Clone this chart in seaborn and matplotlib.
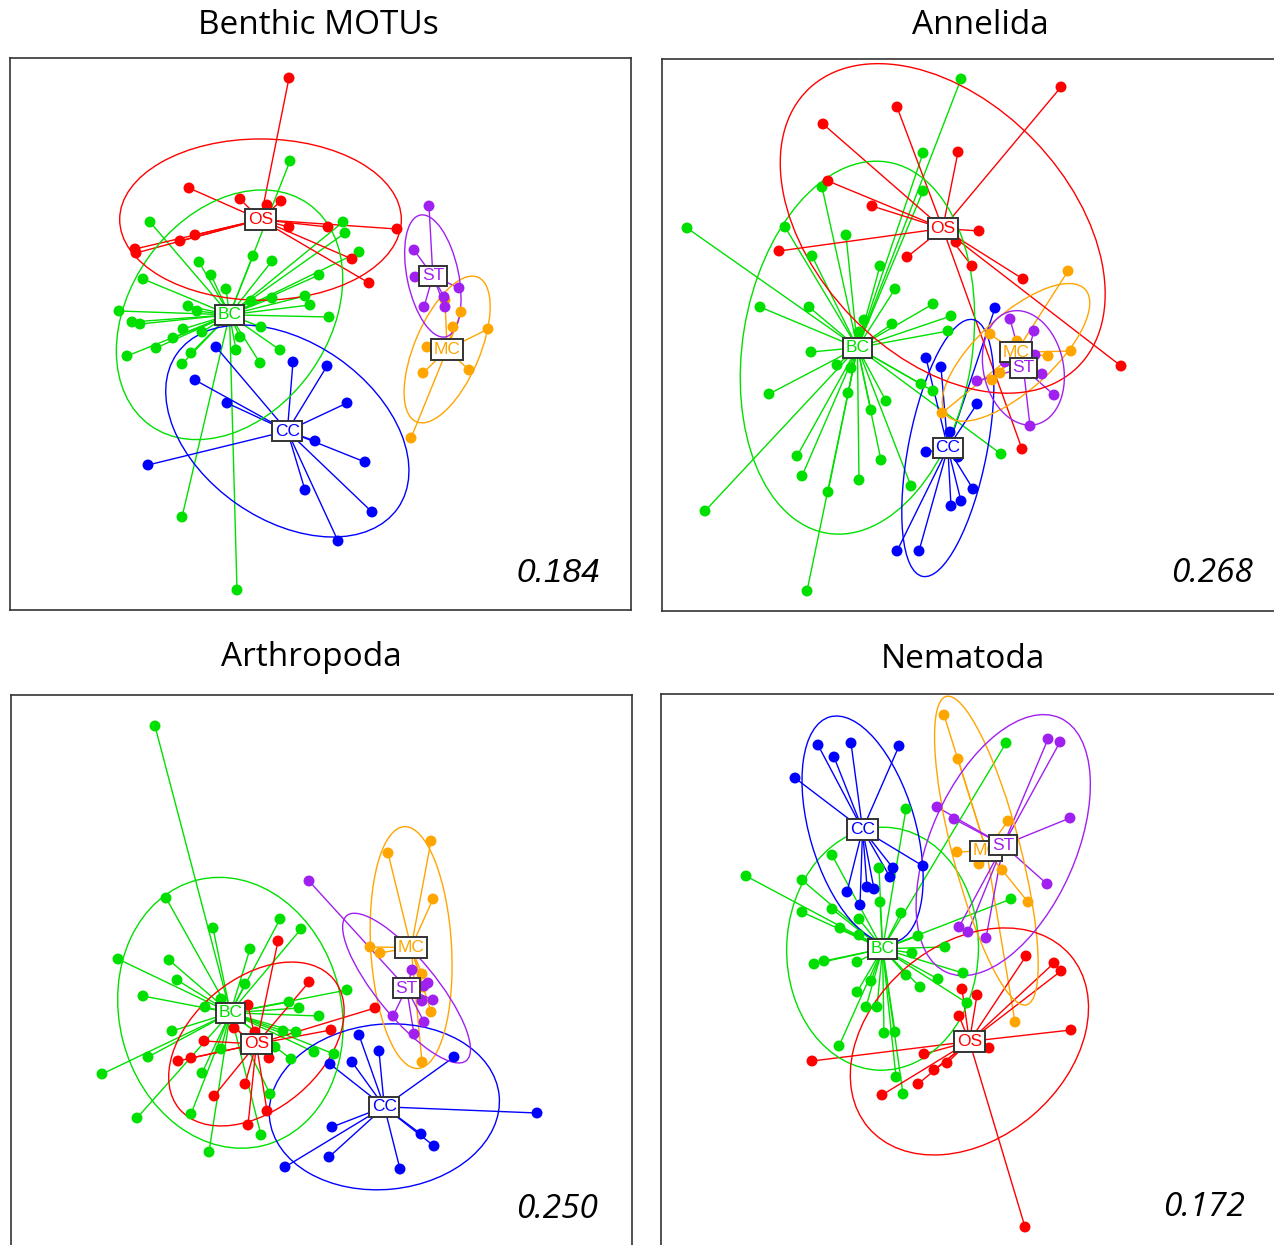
import numpy as np
import pandas as pd
import matplotlib
matplotlib.use("Agg")
import matplotlib.pyplot as plt
import seaborn as sns
from matplotlib.patches import Ellipse

# NMDS site scores (arbitrary units, one set per panel)
# --- Benthic MOTUs
benthic_BC_x = [280, 140, 333, 335, 349, 243, 262, 189, 201, 309, 133, 216, 295, 262, 241, 300, 178, 187,
                109, 319, 122, 130, 251, 173, 192, 230, 163, 146, 226, 270, 117, 181, 172, 250, 172, 227]
benthic_BC_y = [449, 388, 388, 377, 358, 354, 349, 348, 335, 335, 331, 321, 314, 312, 309, 305, 304, 299,
                299, 293, 288, 286, 283, 281, 278, 273, 272, 262, 260, 260, 254, 257, 246, 247, 93, 20]
benthic_CC_x = [206, 185, 217, 283, 317, 337, 305, 355, 138, 295, 362, 328]
benthic_CC_y = [263, 230, 207, 248, 244, 207, 169, 148, 145, 120, 98, 69]
benthic_MC_x = [451, 443, 478, 417, 413, 459, 401, 435]
benthic_MC_y = [298, 283, 281, 263, 237, 240, 172, 310]
benthic_OS_x = [279, 179, 230, 257, 271, 279, 318, 387, 342, 359, 125, 126, 170, 185]
benthic_OS_y = [532, 422, 411, 405, 409, 383, 383, 381, 351, 327, 361, 357, 369, 375]
benthic_ST_x = [419, 404, 405, 449, 434, 414, 435]
benthic_ST_y = [404, 360, 333, 322, 313, 303, 303]

# --- Annelida
annelida_BC_x = [299, 261, 261, 160, 123, 25, 184, 150, 218, 233, 98, 147, 271, 289, 286, 202, 230, 197,
                 149, 175, 189, 107, 186, 259, 271, 224, 209, 135, 219, 140, 197, 249, 166, 43, 145, 339]
annelida_BC_y = [532, 458, 420, 424, 384, 383, 376, 355, 345, 322, 304, 304, 307, 295, 280, 291, 287, 279,
                 259, 246, 243, 217, 218, 227, 220, 210, 201, 155, 151, 135, 131, 125, 119, 100, 20, 157]
annelida_CC_x = [333, 264, 279, 315, 288, 264, 296, 311, 299, 289, 235, 257]
annelida_CC_y = [303, 253, 244, 207, 179, 159, 154, 122, 110, 105, 60, 60]
annelida_MC_x = [328, 355, 386, 409, 338, 330, 280, 406]
annelida_MC_y = [277, 270, 255, 260, 238, 231, 198, 340]
annelida_OS_x = [399, 235, 161, 296, 166, 210, 117, 317, 245, 294, 310, 361, 459, 360]
annelida_OS_y = [524, 504, 487, 459, 430, 405, 360, 380, 354, 369, 345, 332, 245, 162]
annelida_ST_x = [348, 372, 373, 343, 380, 315, 392, 368]
annelida_ST_y = [292, 280, 256, 249, 237, 230, 216, 185]

# --- Arthropoda
arthro_BC_x = [144, 155, 202, 269, 290, 107, 158, 239, 166, 234, 132, 194, 210, 336, 278, 288, 308,
               161, 272, 285, 137, 210, 264, 303, 280, 323, 91, 191, 259, 180, 126, 250, 198]
arthro_BC_y = [521, 349, 319, 328, 318, 288, 287, 298, 267, 263, 251, 240, 248, 257, 245, 239, 231,
               216, 216, 215, 190, 198, 200, 195, 188, 193, 173, 174, 153, 133, 129, 112, 95]
arthro_CC_x = [348, 368, 319, 341, 443, 526, 321, 410, 423, 318, 274, 389]
arthro_CC_y = [212, 196, 183, 185, 190, 134, 120, 113, 101, 90, 80, 78]
arthro_MC_x = [377, 420, 422, 359, 369, 411, 420, 411, 412]
arthro_MC_y = [394, 406, 348, 300, 294, 273, 235, 185, 260]
arthro_OS_x = [267, 298, 237, 223, 244, 320, 193, 258, 167, 180, 234, 203, 256, 237, 364]
arthro_OS_y = [306, 265, 242, 219, 215, 217, 206, 189, 186, 189, 163, 151, 136, 122, 239]
arthro_ST_x = [298, 401, 417, 413, 411, 422, 382, 413, 403]
arthro_ST_y = [366, 277, 264, 261, 246, 247, 231, 225, 213]

# --- Nematoda
nema_BC_x = [245, 85, 171, 141, 218, 219, 141, 171, 240, 198, 179, 198, 257, 284, 251, 153, 163,
             196, 245, 277, 259, 210, 196, 345, 350, 302, 306, 205, 216, 178, 223, 234, 235, 242]
nema_BC_y = [437, 370, 391, 366, 378, 344, 334, 337, 333, 327, 318, 311, 310, 299, 293, 282, 285,
             284, 271, 267, 259, 265, 254, 503, 347, 273, 243, 239, 239, 200, 213, 214, 169, 152]
nema_CC_x = [157, 190, 238, 173, 134, 262, 232, 229, 206, 213, 186, 199]
nema_CC_y = [501, 503, 500, 489, 468, 380, 378, 369, 359, 357, 354, 341]
nema_MC_x = [283, 297, 347, 296, 318, 341, 367, 354]
nema_MC_y = [531, 487, 425, 394, 382, 376, 344, 224]
nema_OS_x = [301, 316, 298, 365, 393, 400, 410, 328, 151, 263, 286, 273, 257, 221, 364]
nema_OS_y = [257, 251, 230, 290, 283, 275, 216, 198, 185, 192, 183, 176, 162, 151, 19]
nema_ST_x = [387, 399, 276, 293, 409, 386, 298, 307, 325]
nema_ST_y = [507, 504, 439, 427, 428, 362, 319, 314, 308]

panel_titles = ["Benthic MOTUs", "Annelida", "Arthropoda", "Nematoda"]
stress_values = ["0.184", "0.268", "0.250", "0.172"]

site_order = ["BC", "CC", "MC", "OS", "ST"]
site_colors = {"BC": "#00e000", "CC": "#0000ff", "MC": "#ffa500", "OS": "#ff0000", "ST": "#a020f0"}

# ellipse scale: sd ellipse at 75% coverage
ell_scale = np.sqrt(-2 * np.log(1 - 0.75))


def make_frame(groups):
    rows = []
    for site, (xs, ys) in groups.items():
        for x, y in zip(xs, ys):
            rows.append((site, x, y))
    return pd.DataFrame(rows, columns=["site", "NMDS1", "NMDS2"])


panels = [
    make_frame({"BC": (benthic_BC_x, benthic_BC_y), "CC": (benthic_CC_x, benthic_CC_y),
                "MC": (benthic_MC_x, benthic_MC_y), "OS": (benthic_OS_x, benthic_OS_y),
                "ST": (benthic_ST_x, benthic_ST_y)}),
    make_frame({"BC": (annelida_BC_x, annelida_BC_y), "CC": (annelida_CC_x, annelida_CC_y),
                "MC": (annelida_MC_x, annelida_MC_y), "OS": (annelida_OS_x, annelida_OS_y),
                "ST": (annelida_ST_x, annelida_ST_y)}),
    make_frame({"BC": (arthro_BC_x, arthro_BC_y), "CC": (arthro_CC_x, arthro_CC_y),
                "MC": (arthro_MC_x, arthro_MC_y), "OS": (arthro_OS_x, arthro_OS_y),
                "ST": (arthro_ST_x, arthro_ST_y)}),
    make_frame({"BC": (nema_BC_x, nema_BC_y), "CC": (nema_CC_x, nema_CC_y),
                "MC": (nema_MC_x, nema_MC_y), "OS": (nema_OS_x, nema_OS_y),
                "ST": (nema_ST_x, nema_ST_y)}),
]

sns.set_style("white")
plt.rcParams['font.family'] = ['Liberation Sans', 'DejaVu Sans']
plt.rcParams['text.color'] = 'black'

W, H = 1274, 1245
fig = plt.figure(figsize=(W / 100, H / 100), dpi=100)

# axes boxes in pixels: left, top
boxes = [(10, 58), (662, 59), (11, 695), (661, 694)]
box_w, box_h = 621, 552
title_pos = [(318, 25), (980, 25), (311, 658), (963, 660)]
stress_pos = [(590, 36), (591, 38), (587, 38), (584, 39)]

for i, df in enumerate(panels):
    left, top = boxes[i]
    ax = fig.add_axes([left / W, (H - top - box_h) / H, box_w / W, box_h / H])

    for site in site_order:
        sub = df[df.site == site]
        col = site_colors[site]
        cx, cy = sub.NMDS1.mean(), sub.NMDS2.mean()
        # spider
        for x, y in zip(sub.NMDS1, sub.NMDS2):
            ax.plot([cx, x], [cy, y], color=col, lw=1.0, zorder=1)
        # dispersion ellipse
        cov = np.cov(sub.NMDS1, sub.NMDS2)
        vals, vecs = np.linalg.eigh(cov)
        angle = np.degrees(np.arctan2(vecs[1, 1], vecs[0, 1]))
        ax.add_patch(Ellipse((cx, cy), 2 * ell_scale * np.sqrt(vals[1]), 2 * ell_scale * np.sqrt(vals[0]),
                             angle=angle, fill=False, ec=col, lw=1.0, zorder=2))

    sns.scatterplot(data=df, x="NMDS1", y="NMDS2", hue="site", palette=site_colors, s=62,
                    edgecolor="none", legend=False, ax=ax, zorder=3)

    for site in site_order:
        sub = df[df.site == site]
        ax.text(sub.NMDS1.mean(), sub.NMDS2.mean(), site, color=site_colors[site], fontsize=12.5,
                ha="center", va="center", zorder=5,
                bbox=dict(boxstyle="square,pad=0.15", fc="white", ec="#333333", lw=1.4))

    ax.set_xlim(0, box_w)
    ax.set_ylim(0, box_h)
    ax.set_xticks([])
    ax.set_yticks([])
    ax.set_xlabel("")
    ax.set_ylabel("")
    for sp in ax.spines.values():
        sp.set_color("#333333")
        sp.set_linewidth(1.2)

    sx, sy = stress_pos[i]
    fam = ['Liberation Sans', 'DejaVu Sans'] if i == 0 else ['Open Sans', 'DejaVu Sans']
    ax.text(sx, sy, stress_values[i], fontsize=24, style="italic", ha="right", va="center",
            family=fam, color="black", zorder=6)

    tx, ty = title_pos[i]
    fig.text(tx / W, 1 - ty / H, panel_titles[i], fontsize=24, ha="center", va="center",
             family=['Open Sans', 'DejaVu Sans'], color="black")

fig.savefig("out.png", dpi=100)
